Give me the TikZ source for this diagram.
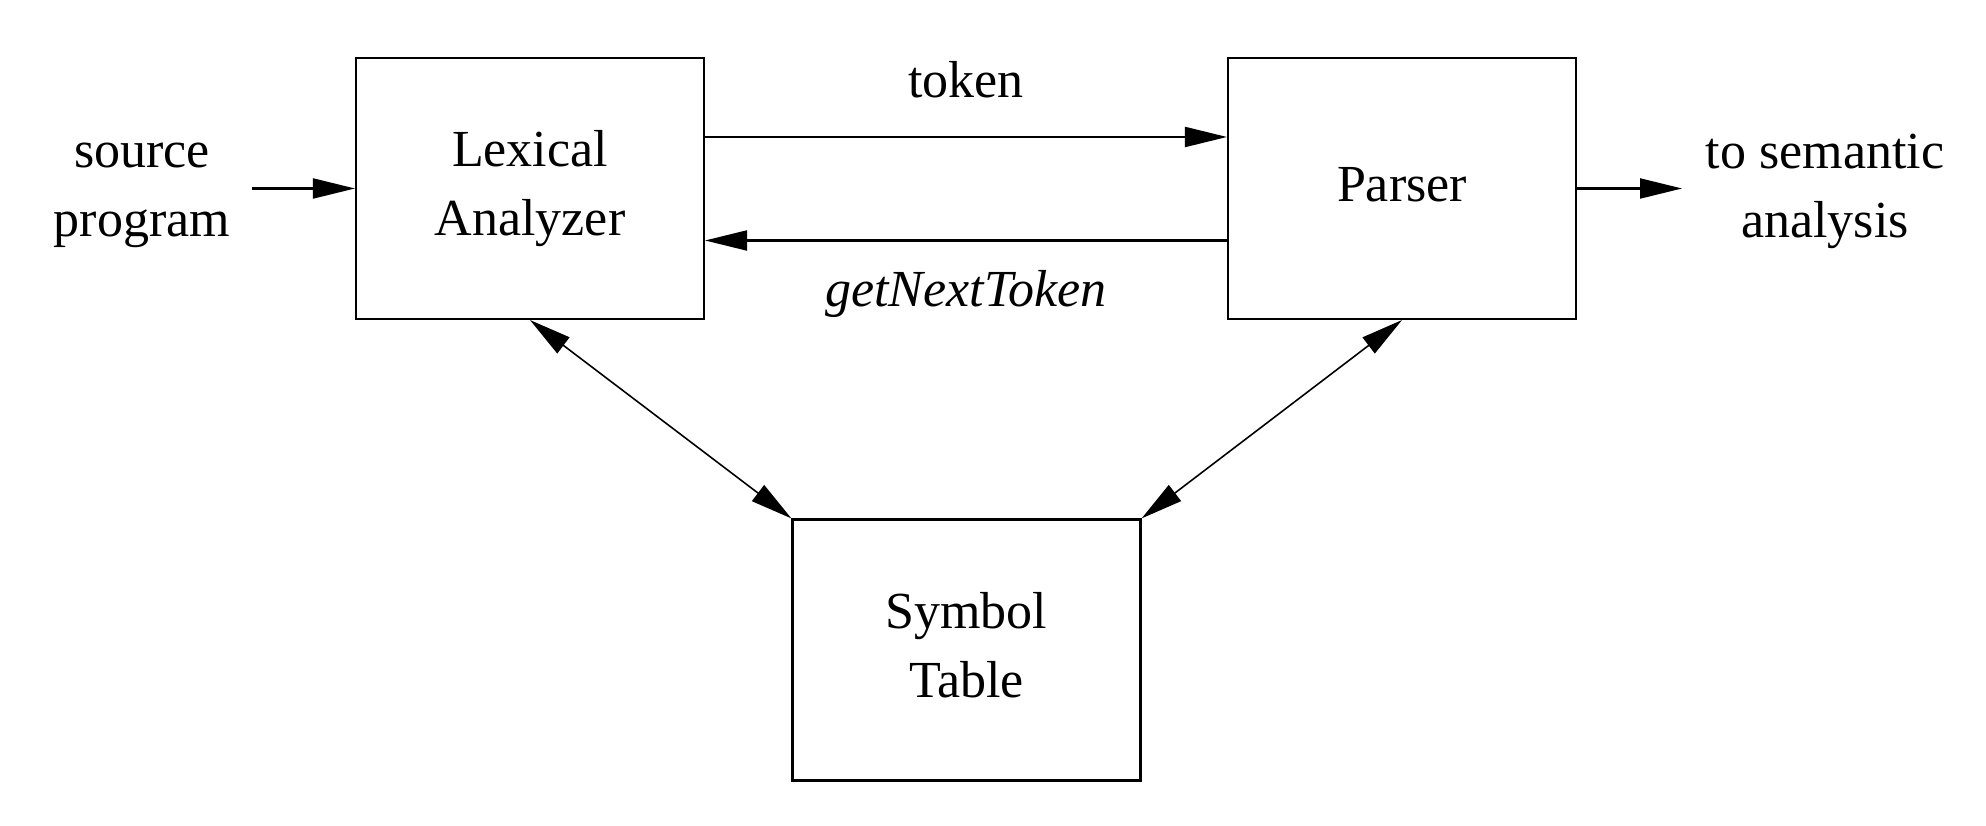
\documentclass[tikz,border=0pt]{standalone}
\usepackage{fontspec}
\setmainfont{Liberation Serif}
\usetikzlibrary{arrows.meta, positioning}

\begin{document}
\begin{tikzpicture}[
  box/.style={draw,line width=0.6pt,minimum width=3.48cm,minimum height=2.61cm,align=center,font=\fontsize{14.8}{19.6}\selectfont},
  txt/.style={align=center,font=\fontsize{14.8}{19.6}\selectfont},
  arr/.style={-{Triangle[length=4.2mm,width=2mm]},line width=0.6pt},
  darr/.style={{Triangle[length=4.2mm,width=2mm]}-{Triangle[length=4.2mm,width=2mm]},line width=0.45pt}]
\useasboundingbox (0,0) rectangle (19.86,8.26);
\node[box] (lex) at (5.30,6.375) {Lexical\\Analyzer};
\node[box,text depth=0.8mm] (parser) at (14.02,6.375) {Parser};
\node[box,text depth=1mm] (symtab) at (9.665,1.76) {Symbol\\Table};
\node[txt] (src) at (1.42,6.31) {source\\program};
\node[txt] (sem) at (18.25,6.35) {to semantic\\analysis};
\coordinate (srcend) at (2.52,6.375);
\coordinate (semend) at (16.82,6.375);
\draw[arr] (srcend) -- (lex.west);
\draw[arr] (parser.east) -- (semend);
\draw[arr] ([yshift=5.15mm]lex.east) -- node[txt,midway,yshift=5.7mm] (tok) {token} ([yshift=5.15mm]parser.west);
\draw[arr] ([yshift=-5.2mm]parser.west) -- node[txt,midway,yshift=-5.4mm] (gnt) {\textit{getNextToken}} ([yshift=-5.2mm]lex.east);
\draw[darr] (lex.south) -- (symtab.north west);
\draw[darr] (parser.south) -- (symtab.north east);
\end{tikzpicture}
\end{document}
